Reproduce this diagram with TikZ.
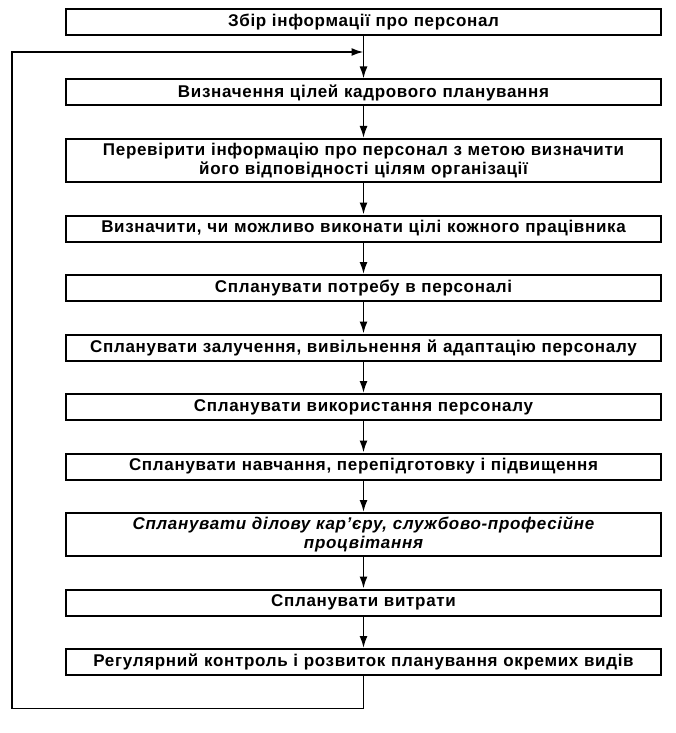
\documentclass[tikz,border=0pt]{standalone}
\usepackage{fontspec}
\setmainfont[LetterSpace=4]{Liberation Sans}
\usetikzlibrary{arrows.meta, positioning, calc}

\begin{document}
\begin{tikzpicture}[
    x=1pt, y=1pt,
    font=\bfseries\fontsize{17}{19}\selectfont,
    node distance=31.5pt,
    stage/.style={
      draw,
      line width=2pt,
      align=center,
      text width=591pt,
      minimum height=26pt,
      inner sep=2pt
    },
    tall/.style={
      stage,
      minimum height=43pt
    },
    arrow/.style={
      -{Latex[length=12pt, width=8pt]},
      line width=1.8pt
    }
  ]
    \useasboundingbox (0,0) rectangle (676,-733);

    % Planning stages
    \node[stage] (collect) at (363.5,-22) {Збір інформації про персонал};
    \node[stage, below=42.5pt of collect] (goals) {Визначення цілей кадрового планування};
    \node[tall, below=of goals] (check)
      {Перевірити інформацію про персонал з метою визначити\\його відповідності цілям організації};
    \node[stage, below=of check] (feasible) {Визначити, чи можливо виконати цілі кожного працівника};
    \node[stage, below=of feasible] (need) {Спланувати потребу в персоналі};
    \node[stage, below=of need] (hire) {Спланувати залучення, вивільнення й адаптацію персоналу};
    \node[stage, below=of hire] (use) {Спланувати використання персоналу};
    \node[stage, below=of use] (train) {Спланувати навчання, перепідготовку і підвищення};
    \node[tall, below=of train, font=\bfseries\itshape\fontsize{17}{19}\selectfont] (career)
      {Спланувати ділову кар’єру, службово-професійне\\процвітання};
    \node[stage, below=of career] (cost) {Спланувати витрати};
    \node[stage, below=of cost] (control) {Регулярний контроль і розвиток планування окремих видів};

    % Arrows
    \foreach \from/\to in {collect/goals, goals/check, check/feasible, feasible/need,
                           need/hire, hire/use, use/train, train/career, career/cost, cost/control}
      \draw[arrow] (\from) -- (\to);

    % Feedback loop
    \coordinate (entry) at ($(collect.south)+(0,-16)$);
    \draw[arrow] (control.south) -- ++(0,-32.5) -- ++(-351.5,0) |- (entry);

  \end{tikzpicture}
\end{document}
